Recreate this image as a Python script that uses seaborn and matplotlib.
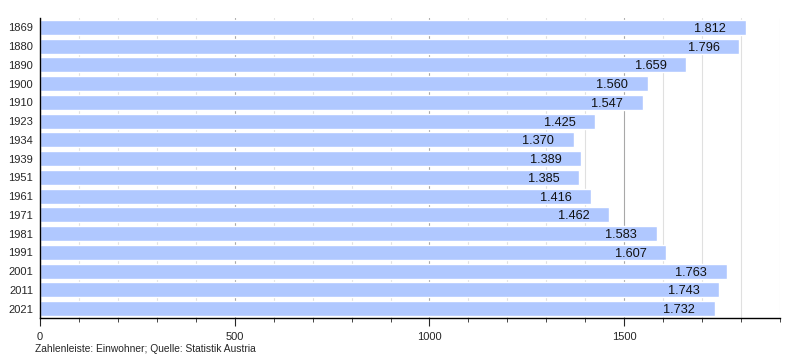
import matplotlib
matplotlib.use("Agg")
import matplotlib.pyplot as plt
from matplotlib.ticker import MultipleLocator
import seaborn as sns
import pandas as pd

years = ["1869", "1880", "1890", "1900", "1910", "1923", "1934", "1939",
         "1951", "1961", "1971", "1981", "1991", "2001", "2011", "2021"]
population = [1812, 1796, 1659, 1560, 1547, 1425, 1370, 1389,
              1385, 1416, 1462, 1583, 1607, 1763, 1743, 1732]

df = pd.DataFrame({"year": years, "pop": population})

sns.set_style("white")
plt.rcParams["font.family"] = ["Liberation Sans", "DejaVu Sans"]

fig = plt.figure(figsize=(8, 3.6), dpi=100)
ax = fig.add_axes([0.05, 0.117, 0.925, 0.833])

sns.barplot(data=df, x="pop", y="year", orient="h", color="#b0c8ff",
            saturation=1, width=0.8, ax=ax, zorder=2)

ax.set_xlim(0, 1900)
ax.xaxis.set_major_locator(MultipleLocator(500))
ax.xaxis.set_minor_locator(MultipleLocator(100))
ax.grid(axis="x", which="minor", color="#e0e0e0", linewidth=0.8, zorder=0)
ax.grid(axis="x", which="major", color="#a8a8a8", linewidth=0.8, zorder=0)
ax.set_axisbelow(True)

# value labels sit inside the bar end
for i, v in enumerate(population):
    label = f"{v / 1000:.3f}"
    ax.annotate(label, xy=(v, i), xytext=(-14, 0), textcoords="offset points",
                ha="right", va="center_baseline", fontsize=9.2, color="#111111", zorder=3)

for s in ["top", "right"]:
    ax.spines[s].set_visible(False)
for s in ["left", "bottom"]:
    ax.spines[s].set_color("black")
    ax.spines[s].set_linewidth(1)

ax.tick_params(axis="x", which="major", length=6, direction="out", bottom=True, labelsize=8, pad=4)
ax.tick_params(axis="x", which="minor", length=3, direction="out", bottom=True)
ax.tick_params(axis="y", length=0, labelsize=8, pad=5)
ax.set_xlabel("")
ax.set_ylabel("")

fig.text(0.044, 0.022, "Zahlenleiste: Einwohner; Quelle: Statistik Austria", fontsize=7.4)

fig.savefig("out.png", dpi=100)
